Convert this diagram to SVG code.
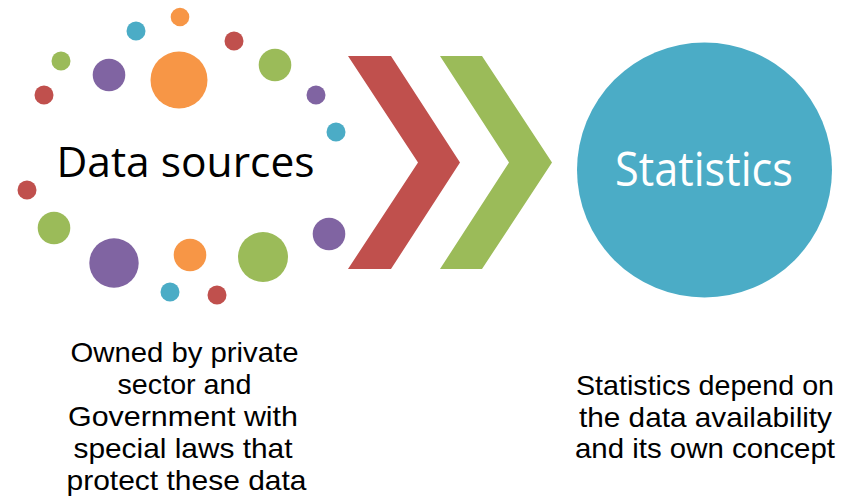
<svg xmlns="http://www.w3.org/2000/svg" width="844" height="503" viewBox="0 0 844 503">
<style>
.r{fill:#C0504D}.g{fill:#9BBB59}.p{fill:#8064A2}.o{fill:#F79646}.b{fill:#4BACC6}
text{font-family:"Open Sans","Noto Sans","Liberation Sans",sans-serif;text-anchor:middle}
.body{font-family:"Liberation Sans",Arial,sans-serif;font-size:28px;fill:#000}
</style>
<rect width="844" height="503" fill="#fff"/>
<g id="data-sources">
<circle class="o" cx="180" cy="17" r="9.3"/>
<circle class="b" cx="136" cy="31" r="9.5"/>
<circle class="r" cx="234" cy="41" r="9.5"/>
<circle class="g" cx="61" cy="61" r="9.5"/>
<circle class="p" cx="109" cy="75" r="16.3"/>
<circle class="o" cx="179" cy="80" r="28.5"/>
<circle class="g" cx="275" cy="65" r="16.3"/>
<circle class="r" cx="44" cy="95" r="9.5"/>
<circle class="p" cx="316" cy="95" r="9.5"/>
<circle class="b" cx="336" cy="132" r="9.5"/>
<circle class="r" cx="27" cy="190" r="9.5"/>
<circle class="g" cx="54" cy="228" r="16.3"/>
<circle class="p" cx="114" cy="263" r="24.7"/>
<circle class="o" cx="190" cy="255" r="16.3"/>
<circle class="g" cx="263" cy="257" r="25"/>
<circle class="p" cx="329" cy="234" r="16.3"/>
<circle class="b" cx="170" cy="292" r="9.5"/>
<circle class="r" cx="217" cy="295" r="9.5"/>
<text x="185.5" y="177" font-size="42" textLength="258" lengthAdjust="spacingAndGlyphs">Data sources</text>
</g>
<g id="connectors">
<polygon class="r" points="348,56 391,56 460,162.5 391,269 348,269 418,162.5"/>
<polygon class="g" points="440,56 482,56 552,162.5 482,269 440,269 509,162.5"/>
</g>
<g id="statistics">
<circle class="b" cx="704.5" cy="170" r="127.5"/>
<text x="704" y="186" font-size="47" fill="#fff" textLength="178" lengthAdjust="spacingAndGlyphs">Statistics</text>
</g>
<g id="data-sources-note">
<text class="body" x="184.5" y="362" textLength="228" lengthAdjust="spacingAndGlyphs">Owned by private</text>
<text class="body" x="184.5" y="394" textLength="134" lengthAdjust="spacingAndGlyphs">sector and</text>
<text class="body" x="183" y="426" textLength="230" lengthAdjust="spacingAndGlyphs">Government with</text>
<text class="body" x="183" y="458" textLength="219" lengthAdjust="spacingAndGlyphs">special laws that</text>
<text class="body" x="186.5" y="490" textLength="240" lengthAdjust="spacingAndGlyphs">protect these data</text>
</g>
<g id="statistics-note">
<text class="body" x="705" y="395" textLength="258" lengthAdjust="spacingAndGlyphs">Statistics depend on</text>
<text class="body" x="705.5" y="426.5" textLength="253" lengthAdjust="spacingAndGlyphs">the data availability</text>
<text class="body" x="705" y="458" textLength="260" lengthAdjust="spacingAndGlyphs">and its own concept</text>
</g>
</svg>
